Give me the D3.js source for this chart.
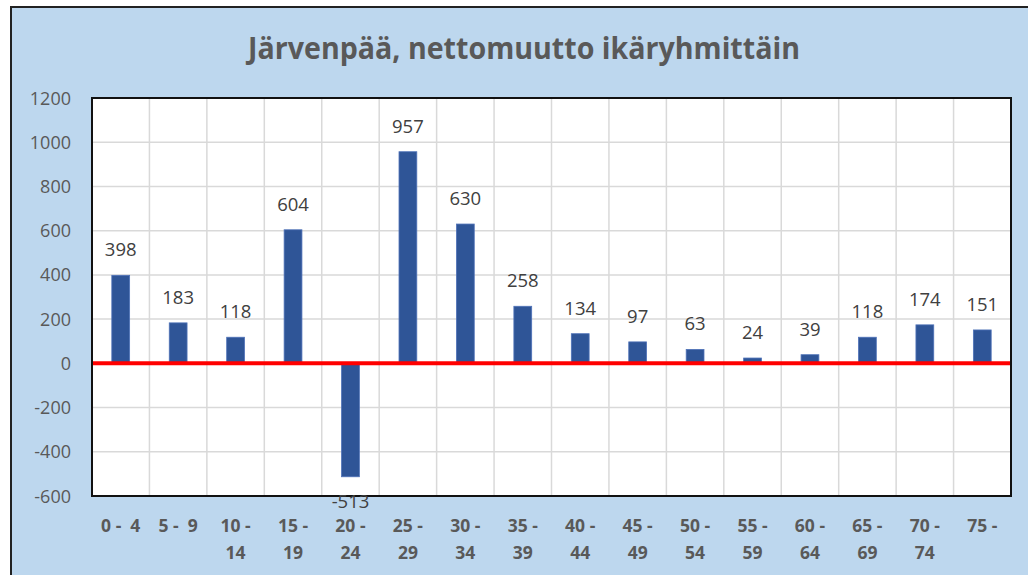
<html>
<head>
<title>Järvenpää nettomuutto</title>
<script src="https://d3js.org/d3.v7.min.js" charset="utf-8"></script>
<style>
body { margin: 0; background: #fff; font-family: "Open Sans", "Liberation Sans", sans-serif; }
</style>
</head>
<body>
<script>
// age groups and net migration per group
var groups = ["0 -  4", "5 -  9", "10 - 14", "15 - 19", "20 - 24", "25 - 29", "30 - 34", "35 - 39",
              "40 - 44", "45 - 49", "50 - 54", "55 - 59", "60 - 64", "65 - 69", "70 - 74", "75 -"];
var netto = [398, 183, 118, 604, -513, 957, 630, 258, 134, 97, 63, 24, 39, 118, 174, 151];
var yTicks = [-600, -400, -200, 0, 200, 400, 600, 800, 1000, 1200];

var width = 1028, height = 575;
var plot = {left: 92, right: 1011, top: 98, bottom: 496};

var svg = d3.select("body").append("svg")
  .attr("width", width).attr("height", height);

// chart background + border
svg.append("rect")
  .attr("x", 11).attr("y", 7).attr("width", width).attr("height", height)
  .attr("fill", "#BDD7EE").attr("stroke", "#222").attr("stroke-width", 2);

svg.append("text")
  .attr("x", 524).attr("y", 59)
  .attr("text-anchor", "middle")
  .attr("font-size", 30).attr("font-weight", "bold")
  .attr("fill", "#595959")
  .attr("textLength", 552).attr("lengthAdjust", "spacingAndGlyphs")
  .text("Järvenpää, nettomuutto ikäryhmittäin");

var x = d3.scaleBand().domain(groups).range([plot.left, plot.right]).paddingInner(0.69).paddingOuter(0.345);
var xGrid = d3.scaleLinear().domain([0, groups.length]).range([plot.left, plot.right]);
var y = d3.scaleLinear().domain([-600, 1200]).range([plot.bottom, plot.top]);

svg.append("rect")
  .attr("x", plot.left).attr("y", plot.top)
  .attr("width", plot.right - plot.left).attr("height", plot.bottom - plot.top)
  .attr("fill", "#fff");

// gridlines
svg.append("g").selectAll("line").data(yTicks).enter().append("line")
  .attr("x1", plot.left).attr("x2", plot.right)
  .attr("y1", d => y(d)).attr("y2", d => y(d))
  .attr("stroke", "#D9D9D9").attr("stroke-width", 1.5);
svg.append("g").selectAll("line").data(d3.range(1, groups.length)).enter().append("line")
  .attr("x1", d => xGrid(d)).attr("x2", d => xGrid(d))
  .attr("y1", plot.top).attr("y2", plot.bottom)
  .attr("stroke", "#D9D9D9").attr("stroke-width", 1.5);

// y tick labels
svg.append("g").selectAll("text").data(yTicks).enter().append("text")
  .attr("x", 71).attr("y", d => y(d) + 6.5)
  .attr("text-anchor", "end")
  .attr("font-size", 18).attr("fill", "#595959")
  .text(d => d);

// bars
svg.append("g").selectAll("rect").data(netto).enter().append("rect")
  .attr("x", (d, i) => x(groups[i]))
  .attr("width", x.bandwidth())
  .attr("y", d => y(Math.max(0, d)))
  .attr("height", d => Math.abs(y(d) - y(0)))
  .attr("fill", "#2F5597").attr("stroke", "#4F72B8").attr("stroke-width", 0.8);

// zero line
svg.append("line")
  .attr("x1", plot.left).attr("x2", plot.right)
  .attr("y1", y(0)).attr("y2", y(0))
  .attr("stroke", "#FF0000").attr("stroke-width", 4);

// plot border
svg.append("rect")
  .attr("x", plot.left).attr("y", plot.top)
  .attr("width", plot.right - plot.left).attr("height", plot.bottom - plot.top)
  .attr("fill", "none").attr("stroke", "#111").attr("stroke-width", 2);

// data labels
svg.append("g").selectAll("text").data(netto).enter().append("text")
  .attr("x", (d, i) => x(groups[i]) + x.bandwidth() / 2)
  .attr("y", d => d >= 0 ? y(d) - 19 : y(d) + 31)
  .attr("text-anchor", "middle")
  .attr("font-size", 18.5).attr("fill", "#404040")
  .text(d => d);

// category labels, split after the dash into two lines
var xl = svg.append("g").selectAll("text").data(groups).enter().append("text")
  .attr("x", d => x(d) + x.bandwidth() / 2)
  .attr("y", 532)
  .attr("text-anchor", "middle")
  .attr("font-size", 17.5).attr("font-weight", "bold").attr("fill", "#595959")
  .attr("xml:space", "preserve");
xl.each(function(d, i) {
  var t = d3.select(this);
  if (i < 2) { t.text(d); return; }
  var k = d.indexOf("-") + 1;
  t.append("tspan").attr("x", t.attr("x")).text(d.slice(0, k));
  var rest = d.slice(k).trim();
  if (rest) t.append("tspan").attr("x", t.attr("x")).attr("dy", 27).text(rest);
});
</script>
</body>
</html>
